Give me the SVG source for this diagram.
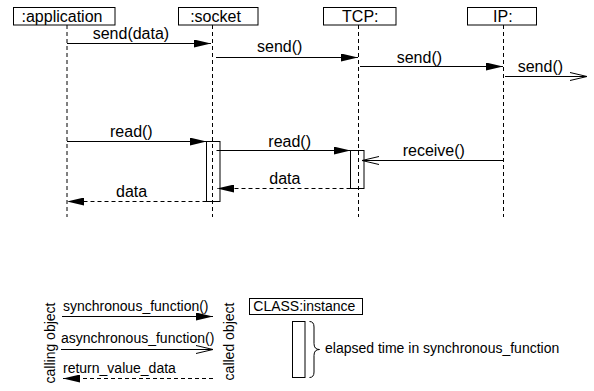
<svg xmlns="http://www.w3.org/2000/svg" width="594" height="391" viewBox="0 0 594 391">
<style>
text{font-family:"Liberation Sans",Arial,sans-serif;fill:#000}
.m{font-size:16px}
.l{font-size:14px}
.box{fill:#fff;stroke:#000;stroke-width:1}
.act{fill:none;stroke:#000;stroke-width:1}
.life{stroke:#000;stroke-width:1;stroke-dasharray:4,3;fill:none}
.c{stroke:#000;stroke-width:1;fill:none}
.r{stroke-dasharray:4,3}
.f{marker-end:url(#filled)}
.o{marker-end:url(#open)}
</style>
<defs>
<marker id="filled" viewBox="0 0 17 8" refX="17" refY="4" markerWidth="17" markerHeight="8" markerUnits="userSpaceOnUse" orient="auto">
<path d="M0,0 L17,4 L0,8 Z" fill="#000" stroke="none"/>
</marker>
<marker id="open" viewBox="-1 -1 19 10" refX="17" refY="4" markerWidth="19" markerHeight="10" markerUnits="userSpaceOnUse" orient="auto">
<path d="M0,0 L17,4 L0,8" fill="none" stroke="#000" stroke-width="1" stroke-dasharray="none"/>
</marker>
</defs>
<rect width="594" height="391" fill="#fff"/>
<g id="lifelines">
<path class="life" d="M67,25 V217"/>
<path class="life" d="M212.5,25 V217"/>
<path class="life" d="M358.5,25 V217"/>
<path class="life" d="M503.5,25 V217"/>
</g>
<g id="application">
<rect class="box" x="13.5" y="7.5" width="101.5" height="17.5"/>
<text class="m" x="62" y="21.5" text-anchor="middle">:application</text>
</g>
<g id="socket">
<rect class="box" x="178.5" y="7.5" width="79.5" height="17.5"/>
<text class="m" x="215.5" y="21.5" text-anchor="middle">:socket</text>
</g>
<g id="tcp">
<rect class="box" x="323.5" y="7.5" width="72.5" height="17.5"/>
<text class="m" x="360.3" y="21.5" text-anchor="middle">TCP:</text>
</g>
<g id="ip">
<rect class="box" x="467.5" y="7.5" width="69" height="17.5"/>
<text class="m" x="502.8" y="21.5" text-anchor="middle">IP:</text>
</g>
<g id="socket-activation">
<rect class="act" x="206.5" y="141.5" width="13.5" height="60"/>
</g>
<g id="tcp-activation">
<rect class="act" x="350.5" y="150.5" width="13.5" height="38"/>
</g>
<g id="connectors">
<path class="c f" d="M67,43.5 H211"/>
<path class="c f" d="M216,57.5 H358"/>
<path class="c f" d="M360,66.5 H503"/>
<path class="c o" d="M505,76.5 H587"/>
<path class="c f" d="M67,141.5 H206.5"/>
<path class="c f" d="M216.5,150.5 H350.5"/>
<path class="c o" d="M503.5,160.5 H362"/>
<path class="c r f" d="M350.5,188.5 H217"/>
<path class="c r f" d="M206.5,201.5 H67"/>
</g>
<g id="labels">
<text class="m" x="92.7" y="39">send(data)</text>
<text class="m" x="257" y="52">send()</text>
<text class="m" x="396.7" y="62.5">send()</text>
<text class="m" x="517.7" y="72">send()</text>
<text class="m" x="110" y="137">read()</text>
<text class="m" x="268.3" y="146.5">read()</text>
<text class="m" x="402.7" y="155.7">receive()</text>
<text class="m" x="269.3" y="184">data</text>
<text class="m" x="116" y="197">data</text>
</g>
<g id="legend">
<text class="l" transform="translate(55,343) rotate(-90)" text-anchor="middle">calling object</text>
<text class="l" transform="translate(233.5,341.5) rotate(-90)" text-anchor="middle">called object</text>
<path class="c f" d="M62,316.5 H213"/>
<path class="c o" d="M61,349.5 H213"/>
<path class="c r f" d="M213,378.5 H63"/>
<text class="l" x="63" y="311">synchronous_function()</text>
<text class="l" x="61" y="342.7">asynchronous_function()</text>
<text class="l" x="63" y="372.7">return_value_data</text>
<g id="legend-instance">
<rect class="box" x="249.5" y="298.5" width="113" height="16"/>
<text class="l" x="253.3" y="311">CLASS:instance</text>
</g>
<g id="legend-activation">
<rect class="act" x="292.5" y="321.5" width="12.5" height="56"/>
<path class="c" d="M309.5,321.5 Q314,321.5 314,327 V343.5 Q314,349.5 319.5,349.5 Q314,349.5 314,355.5 V372 Q314,377.5 309.5,377.5"/>
<text class="l" x="325" y="352.5">elapsed time in synchronous_function</text>
</g>
</g>
</svg>
